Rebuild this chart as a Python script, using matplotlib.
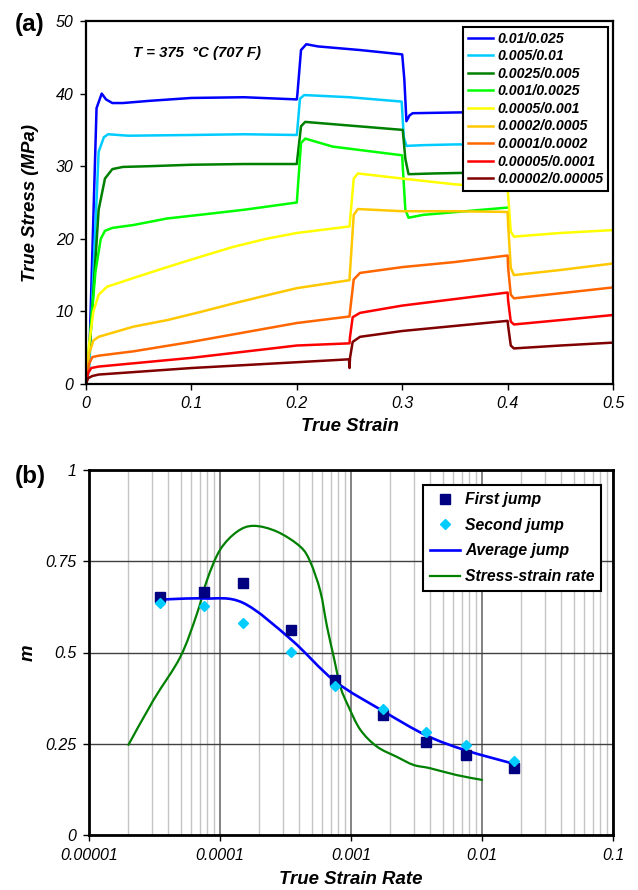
import numpy as np
import matplotlib
matplotlib.use("Agg")
import matplotlib.pyplot as plt
from matplotlib.path import Path
from matplotlib.patches import PathPatch
from matplotlib.ticker import FixedLocator, FixedFormatter, LogLocator, NullFormatter

plt.rcParams['font.family'] = ['Liberation Sans', 'DejaVu Sans']

# ---------------- (a) strain-rate jump tests ----------------
rate_labels = ["0.01/0.025", "0.005/0.01", "0.0025/0.005", "0.001/0.0025",
               "0.0005/0.001", "0.0002/0.0005", "0.0001/0.0002",
               "0.00005/0.0001", "0.00002/0.00005"]
curve_colors = ["#0000FF", "#00CCFF", "#008000", "#00FF00", "#FFFF00",
                "#FFC800", "#FF6600", "#FF0000", "#800000"]

strain_a1 = [0, 0.003, 0.010, 0.0149, 0.019, 0.025, 0.035, 0.06, 0.1, 0.15, 0.2,
             0.2005, 0.204, 0.209, 0.22, 0.26, 0.3, 0.302, 0.304, 0.307, 0.31, 0.35, 0.4]
stress_a1 = [0, 3, 38.0, 40.0, 39.2, 38.7, 38.7, 39.0, 39.4, 39.5, 39.2,
             39.8, 46.0, 46.8, 46.5, 46.0, 45.4, 42.0, 36.2, 37.0, 37.3, 37.4, 37.5]

strain_a2 = [0, 0.003, 0.012, 0.017, 0.021, 0.04, 0.1, 0.15, 0.2, 0.2005, 0.203,
             0.207, 0.25, 0.2995, 0.3015, 0.304, 0.32, 0.35, 0.4]
stress_a2 = [0, 2, 32.0, 34.0, 34.4, 34.2, 34.3, 34.4, 34.3, 35.0, 39.3,
             39.8, 39.5, 38.9, 34.0, 32.8, 32.9, 33.0, 33.0]

strain_a3 = [0, 0.004, 0.012, 0.018, 0.025, 0.035, 0.06, 0.1, 0.15, 0.2, 0.2005,
             0.204, 0.208, 0.25, 0.3005, 0.303, 0.306, 0.33, 0.4]
stress_a3 = [0, 6, 24.0, 28.3, 29.6, 29.9, 30.0, 30.2, 30.3, 30.3, 31.0,
             35.5, 36.1, 35.6, 35.0, 31.0, 28.9, 29.0, 29.2]

strain_a4 = [0, 0.004, 0.009, 0.014, 0.018, 0.025, 0.045, 0.077, 0.108, 0.15, 0.2,
             0.2005, 0.204, 0.208, 0.234, 0.3, 0.3005, 0.303, 0.306, 0.32, 0.36, 0.4]
stress_a4 = [0, 7, 15.5, 20.0, 21.1, 21.5, 21.9, 22.8, 23.3, 24.0, 25.0,
             26.0, 33.2, 33.8, 32.7, 31.5, 30.0, 24.0, 22.9, 23.3, 23.8, 24.3]

strain_a5 = [0, 0.003, 0.007, 0.012, 0.02, 0.045, 0.077, 0.108, 0.14, 0.171, 0.2,
             0.25, 0.2505, 0.254, 0.258, 0.3, 0.35, 0.4, 0.4005, 0.403, 0.406, 0.45, 0.5]
stress_a5 = [0, 5.5, 10.0, 12.3, 13.4, 14.6, 16.1, 17.5, 18.9, 20.0, 20.8,
             21.7, 22.5, 28.3, 29.0, 28.3, 27.5, 27.0, 26.0, 21.0, 20.3, 20.8, 21.2]

strain_a6 = [0, 0.003, 0.007, 0.012, 0.045, 0.077, 0.108, 0.14, 0.171, 0.2, 0.25,
             0.2505, 0.254, 0.258, 0.3, 0.35, 0.4, 0.4005, 0.403, 0.406, 0.45, 0.5]
stress_a6 = [0, 4.2, 6.0, 6.5, 7.9, 8.8, 9.9, 11.1, 12.2, 13.2, 14.3,
             15.5, 23.3, 24.1, 23.8, 23.8, 23.7, 22.0, 16.0, 15.0, 15.7, 16.6]

strain_a7 = [0, 0.003, 0.006, 0.012, 0.045, 0.1, 0.2, 0.25, 0.2505, 0.254, 0.26,
             0.3, 0.35, 0.4, 0.4005, 0.403, 0.406, 0.45, 0.5]
stress_a7 = [0, 2.8, 3.7, 3.9, 4.5, 5.8, 8.4, 9.3, 10.0, 14.4, 15.3,
             16.1, 16.8, 17.7, 16.0, 12.3, 11.8, 12.5, 13.3]

strain_a8 = [0, 0.002, 0.005, 0.012, 0.1, 0.2, 0.25, 0.2505, 0.253, 0.26, 0.3,
             0.35, 0.4, 0.4005, 0.403, 0.406, 0.45, 0.5]
stress_a8 = [0, 1.5, 2.2, 2.4, 3.6, 5.3, 5.6, 6.5, 9.2, 9.8, 10.8,
             11.7, 12.6, 11.5, 8.6, 8.2, 8.8, 9.5]

strain_a9 = [0, 0.002, 0.006, 0.012, 0.1, 0.2, 0.2495, 0.25, 0.2505, 0.253, 0.26,
             0.3, 0.35, 0.4, 0.4005, 0.403, 0.406, 0.45, 0.5]
stress_a9 = [0, 0.8, 1.1, 1.3, 2.2, 3.0, 3.4, 2.2, 3.6, 5.8, 6.5,
             7.3, 8.0, 8.7, 8.0, 5.3, 4.9, 5.3, 5.7]

strains = [strain_a1, strain_a2, strain_a3, strain_a4, strain_a5,
           strain_a6, strain_a7, strain_a8, strain_a9]
stresses = [stress_a1, stress_a2, stress_a3, stress_a4, stress_a5,
            stress_a6, stress_a7, stress_a8, stress_a9]

# ---------------- (b) strain-rate sensitivity ----------------
jump_rate = [0.000035, 0.000075, 0.00015, 0.00035, 0.00075, 0.00175, 0.00375, 0.0075, 0.0175]
m_first = [0.652, 0.666, 0.690, 0.562, 0.425, 0.329, 0.255, 0.219, 0.184]
m_second = [0.636, 0.627, 0.581, 0.501, 0.408, 0.345, 0.283, 0.247, 0.203]
m_average = [0.645, 0.648, 0.636, 0.535, 0.422, 0.340, 0.273, 0.232, 0.195]

ss_rate = [2.0e-5, 3.11e-5, 4.98e-5, 6.68e-5, 7.97e-5, 1.0e-4, 1.35e-4, 1.81e-4,
           2.73e-4, 4.1e-4, 4.89e-4, 5.83e-4, 6.56e-4, 7.38e-4, 8.3e-4, 9.6e-4,
           1.18e-3, 1.58e-3, 2.24e-3, 3.0e-3, 4.01e-3, 6.44e-3, 1.0e-2]
m_ss = [0.247, 0.370, 0.488, 0.607, 0.699, 0.781, 0.831, 0.847,
        0.831, 0.790, 0.748, 0.668, 0.571, 0.488, 0.406, 0.351,
        0.288, 0.242, 0.214, 0.192, 0.183, 0.164, 0.151]


def smooth_log_curve(ax, x, y, **kw):
    """Smoothed (Catmull-Rom Bezier) line through points on a log-x axis."""
    pts = np.column_stack([np.log10(x), y])
    n = len(pts)
    verts = [pts[0]]
    codes = [Path.MOVETO]
    for i in range(n - 1):
        p0 = pts[max(i - 1, 0)]
        p1 = pts[i]
        p2 = pts[i + 1]
        p3 = pts[min(i + 2, n - 1)]
        verts += [p1 + (p2 - p0) / 6.0, p2 - (p3 - p1) / 6.0, p2]
        codes += [Path.CURVE4] * 3
    verts = np.array(verts)
    verts[:, 0] = 10 ** verts[:, 0]
    patch = PathPatch(Path(verts, codes), fill=False, capstyle='round',
                      joinstyle='round', **kw)
    ax.add_patch(patch)


fig = plt.figure(figsize=(6.38, 8.9), dpi=100)

TICK_SIZE = 11.5
label_font = dict(fontsize=13.4, fontstyle='italic', fontweight='bold')

# ---- panel (a)
ax1 = fig.add_axes([86 / 638, 1 - 384 / 890, 527 / 638, 363 / 890])
for s, t, c, lab in zip(strains, stresses, curve_colors, rate_labels):
    ax1.plot(s, t, color=c, lw=1.8, label=lab, solid_joinstyle='round')
ax1.set_xlim(0, 0.5)
ax1.set_ylim(0, 50)
ax1.xaxis.set_major_locator(FixedLocator([0, 0.1, 0.2, 0.3, 0.4, 0.5]))
ax1.xaxis.set_major_formatter(FixedFormatter(["0", "0.1", "0.2", "0.3", "0.4", "0.5"]))
ax1.yaxis.set_major_locator(FixedLocator([0, 10, 20, 30, 40, 50]))
ax1.yaxis.set_major_formatter(FixedFormatter(["0", "10", "20", "30", "40", "50"]))
ax1.tick_params(direction='out', length=4, width=1, pad=5)
for lbl in ax1.get_xticklabels() + ax1.get_yticklabels():
    lbl.set_fontsize(TICK_SIZE)
    lbl.set_fontstyle('italic')
for sp in ax1.spines.values():
    sp.set_linewidth(1.6)
ax1.set_xlabel("True Strain", labelpad=5, **label_font)
ax1.set_ylabel("True Stress (MPa)", labelpad=12, **label_font)
ax1.text(0.089, 0.912, "T = 375  \u00b0C (707 F)", transform=ax1.transAxes,
         ha='left', va='center', fontsize=10.7, fontstyle='italic', fontweight='bold')
leg1 = ax1.legend(loc='upper right', bbox_to_anchor=(0.991, 0.984), borderaxespad=0,
                  prop=dict(size=10.2, style='italic', weight='bold'),
                  handlelength=1.75, handletextpad=0.3, labelspacing=0.25,
                  borderpad=0.35, fancybox=False, framealpha=1, edgecolor='black')
leg1.get_frame().set_linewidth(1.5)
fig.text(15 / 638, 1 - 25 / 890, "(a)", fontsize=17.5, fontweight='bold',
         ha='left', va='center')

# ---- panel (b)
ax2 = fig.add_axes([89 / 638, 1 - 835 / 890, 524 / 638, 365 / 890])
ax2.set_xscale('log')
ax2.set_xlim(1e-5, 1e-1)
ax2.set_ylim(0, 1)
ax2.xaxis.set_major_locator(FixedLocator([1e-5, 1e-4, 1e-3, 1e-2, 1e-1]))
ax2.xaxis.set_major_formatter(FixedFormatter(["0.00001", "0.0001", "0.001", "0.01", "0.1"]))
ax2.xaxis.set_minor_locator(LogLocator(base=10, subs=np.arange(2, 10)))
ax2.xaxis.set_minor_formatter(NullFormatter())
ax2.yaxis.set_major_locator(FixedLocator([0, 0.25, 0.5, 0.75, 1]))
ax2.yaxis.set_major_formatter(FixedFormatter(["0", "0.25", "0.5", "0.75", "1"]))
ax2.grid(True, which='minor', axis='x', color='#c4c4c4', lw=1.0)
ax2.grid(True, which='major', axis='x', color='#606060', lw=1.1)
ax2.grid(True, which='major', axis='y', color='#404040', lw=1.0)
ax2.set_axisbelow(True)
ax2.tick_params(which='major', direction='out', length=4, width=1, pad=5)
ax2.tick_params(which='minor', length=0)
for lbl in ax2.get_xticklabels() + ax2.get_yticklabels():
    lbl.set_fontsize(TICK_SIZE)
    lbl.set_fontstyle('italic')
for sp in ax2.spines.values():
    sp.set_linewidth(2.0)

smooth_log_curve(ax2, ss_rate, m_ss, edgecolor='#008000', lw=1.6, zorder=3)
smooth_log_curve(ax2, jump_rate, m_average, edgecolor='#0000FF', lw=1.9, zorder=4)
ax2.plot(jump_rate, m_first, ls='none', marker='s', ms=7.2, color='#000080', zorder=5)
ax2.plot(jump_rate, m_second, ls='none', marker='D', ms=5.2, color='#00CCFF', zorder=6)

h1, = ax2.plot([], [], ls='none', marker='s', ms=7.2, color='#000080', label='First jump')
h2, = ax2.plot([], [], ls='none', marker='D', ms=5.2, color='#00CCFF', label='Second jump')
h3, = ax2.plot([], [], color='#0000FF', lw=1.9, label='Average jump')
h4, = ax2.plot([], [], color='#008000', lw=1.6, label='Stress-strain rate')
leg2 = ax2.legend(handles=[h1, h2, h3, h4], loc='upper right',
                  bbox_to_anchor=(0.978, 0.959), borderaxespad=0, numpoints=1,
                  prop=dict(size=11.3, style='italic', weight='bold'),
                  handlelength=1.9, handletextpad=0.3, labelspacing=0.68,
                  borderpad=0.45, fancybox=False, framealpha=1, edgecolor='black')
leg2.get_frame().set_linewidth(1.5)

ax2.set_xlabel("True Strain Rate", labelpad=6, **label_font)
ax2.set_ylabel("m", labelpad=6, **label_font)
fig.text(15 / 638, 1 - 476 / 890, "(b)", fontsize=17.5, fontweight='bold',
         ha='left', va='center')

fig.savefig("out.png", dpi=100)
